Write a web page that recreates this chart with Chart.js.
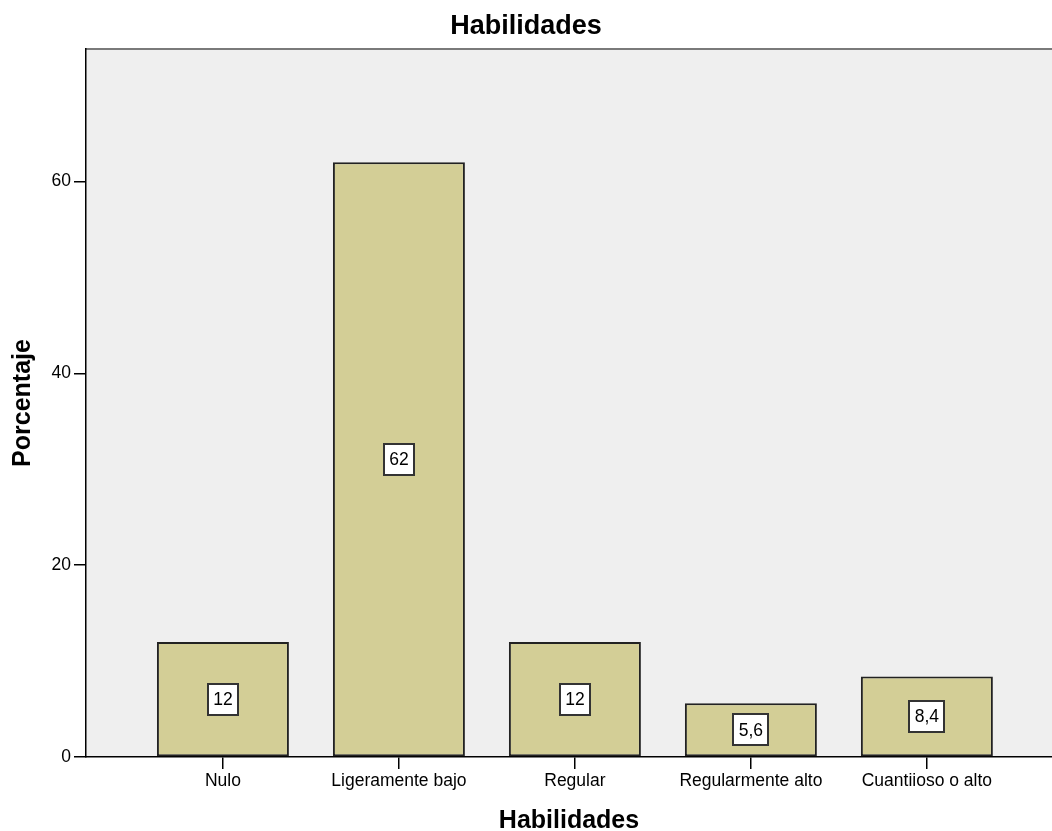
<!DOCTYPE html>
<html>
<head>
<meta charset="utf-8">
<script src="https://cdn.jsdelivr.net/npm/chart.js@4.4.0/dist/chart.umd.min.js"></script>
<style>
  html, body { margin: 0; padding: 0; background: #fff; }
</style>
</head>
<body>
<canvas id="myChart" width="1052" height="831"></canvas>
<script>
// datos
const categorias = ['Nulo', 'Ligeramente bajo', 'Regular', 'Regularmente alto', 'Cuantiioso o alto'];
const porcentajes = [12, 62, 12, 5.6, 8.4];
const ticksY = [0, 20, 40, 60];

Chart.defaults.font.family = "'Liberation Sans', Arial, sans-serif";
Chart.defaults.color = '#000';

// fondo gris del area del grafico + linea superior
const fondo = {
  id: 'fondo',
  beforeDraw(chart) {
    const {ctx, chartArea: a} = chart;
    ctx.save();
    ctx.fillStyle = '#efefef';
    ctx.fillRect(a.left, a.top, a.right - a.left, a.bottom - a.top);
    ctx.strokeStyle = '#7a7a7a';
    ctx.lineWidth = 2;
    ctx.beginPath();
    ctx.moveTo(a.left, a.top);
    ctx.lineTo(a.right, a.top);
    ctx.stroke();
    ctx.restore();
  }
};

// cajitas blancas con el valor en medio de cada barra
const etiquetas = {
  id: 'etiquetas',
  afterDatasetsDraw(chart) {
    const ctx = chart.ctx;
    const meta = chart.getDatasetMeta(0);
    ctx.save();
    ctx.font = "17.5px 'Liberation Sans', Arial, sans-serif";
    ctx.textAlign = 'center';
    ctx.textBaseline = 'middle';
    meta.data.forEach((barra, i) => {
      const texto = String(porcentajes[i]).replace('.', ',');
      const cy = (barra.y + barra.base) / 2;
      const w = Math.round(ctx.measureText(texto).width + 11);
      const h = 31;
      const x0 = Math.round(barra.x - w / 2), y0 = Math.round(cy - h / 2);
      ctx.fillStyle = '#fff';
      ctx.fillRect(x0, y0, w, h);
      ctx.strokeStyle = '#333';
      ctx.lineWidth = 2;
      ctx.strokeRect(x0, y0, w, h);
      ctx.fillStyle = '#000';
      ctx.fillText(texto, barra.x, cy + 1);
    });
    ctx.restore();
  }
};

const ctx = document.getElementById('myChart');

new Chart(ctx, {
  type: 'bar',
  data: {
    datasets: [{
      label: 'Porcentaje',
      data: categorias.map((c, i) => ({x: i, y: porcentajes[i]})),
      backgroundColor: '#d3ce96',
      borderColor: '#222',
      borderWidth: 2,
      borderSkipped: false,
      barPercentage: 0.75,
      categoryPercentage: 1
    }]
  },
  options: {
    responsive: false,
    animation: false,
    devicePixelRatio: 1,
    layout: { padding: 0 },
    plugins: {
      legend: { display: false },
      tooltip: { enabled: false },
      title: {
        display: true,
        text: 'Habilidades',
        color: '#000',
        font: { size: 27, weight: 'bold', lineHeight: 1 },
        padding: { top: 13.5, bottom: 8.5 }
      }
    },
    scales: {
      x: {
        type: 'linear',
        min: -0.778,
        max: 4.711,
        offset: false,
        afterBuildTicks: s => { s.ticks = categorias.map((c, i) => ({value: i})); },
        ticks: {
          callback: v => categorias[v],
          font: { size: 17.5 },
          padding: 2,
          autoSkip: false,
          maxRotation: 0
        },
        grid: { display: true, drawOnChartArea: false, drawTicks: true, tickLength: 12, color: '#000', lineWidth: 1.5, offset: false },
        border: { display: true, color: '#000', width: 1.5 },
        title: {
          display: true,
          text: 'Habilidades',
          font: { size: 25, weight: 'bold', lineHeight: 1 },
          padding: { top: 0, bottom: -3 }
        },
        afterFit: s => { s.height = 74; }
      },
      y: {
        min: 0,
        max: 73.8,
        afterBuildTicks: s => { s.ticks = ticksY.map(v => ({value: v})); },
        ticks: { font: { size: 17.5 }, padding: 3 },
        grid: { display: true, drawOnChartArea: false, drawTicks: true, tickLength: 12, color: '#000', lineWidth: 1.5 },
        border: { display: true, color: '#000', width: 1.5 },
        title: {
          display: true,
          text: 'Porcentaje',
          font: { size: 25, weight: 'bold', lineHeight: 1 },
          padding: { top: 10.5, bottom: 0 }
        },
        afterFit: s => { s.width = 86; }
      }
    }
  },
  plugins: [fondo, etiquetas]
});
</script>
</body>
</html>
